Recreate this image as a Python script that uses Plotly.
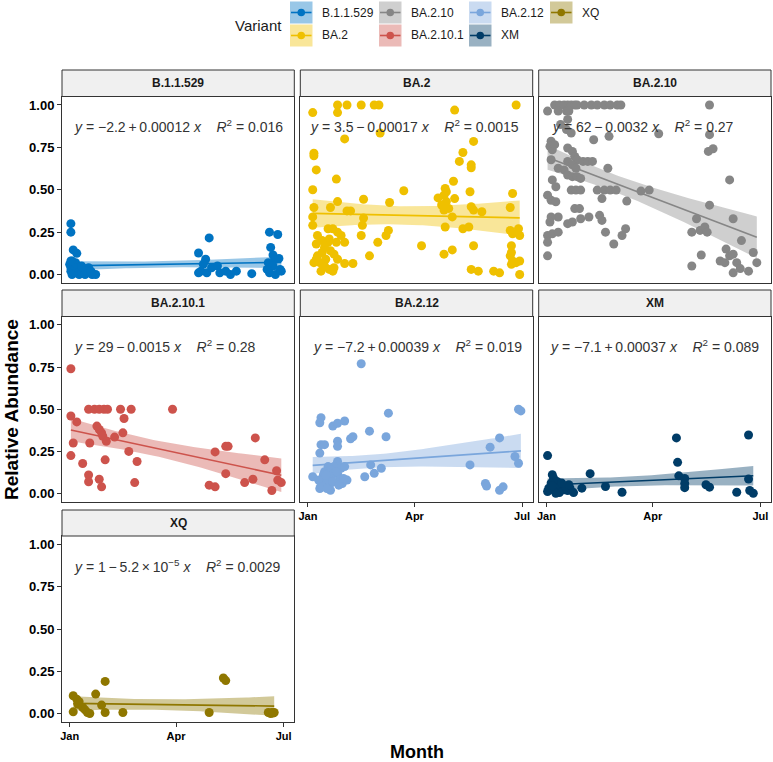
import numpy as np
import plotly.graph_objects as go

# ---------------- data (day = days since 2022-01-01, abundance = relative abundance) -------------
VARIANTS = ["B.1.1.529", "BA.2", "BA.2.10", "BA.2.10.1", "BA.2.12", "XM", "XQ"]
COLORS = ["#0073C2", "#EFC000", "#868686", "#CD534C", "#7AA6DC", "#003C67", "#8F7700"]

B11529_DAY = [1, 1, 3, 6, 0, 1, 1, 2, 2, 3, 4, 4, 5, 6, 7, 8, 9, 10, 11, 12, 13, 14, 15, 16, 17, 19, 22,
              1, 10, 14, 18,
              109, 118, 115, 111, 113, 116, 120, 125, 127, 132, 136, 141, 154, 109,
              169, 176, 170, 172, 174, 177, 168, 172, 178, 169, 174, 179, 167]
B11529_ABUND = [0.30, 0.25, 0.145, 0.125, 0.06, 0.04, 0.02, 0.08, 0.0, 0.05, 0.03, 0.01, 0.07, 0.02, 0.04,
                0.0, 0.03, 0.01, 0.04, 0.02, 0.0, 0.03, 0.01, 0.04, 0.02, 0.0, 0.0,
                0.08, 0.05, 0.02, 0.02,
                0.127, 0.216, 0.09, 0.02, 0.06, 0.01, 0.04, 0.05, 0.01, 0.02, 0.0, 0.02, 0.005, 0.01,
                0.25, 0.236, 0.16, 0.115, 0.09, 0.095, 0.07, 0.05, 0.03, 0.01, 0.0, 0.02, 0.03]

BA2_DAY = [25, 33, 45, 56, 60, 176, 25, 4, 124, 61, 31, 140, 131, 128, 138, 138, 5, 5, 7, 24, 4, 81, 123,
           116, 117, 115, 110, 117, 113, 115, 119, 137, 124, 47, 69, 25, 19, 5, 33, 36, 138, 140, 147,
           171, 173, 122, 4, 4, 47, 46, 116, 136, 131, 171, 178, 179, 173, 68, 66, 45, 59, 96, 140,
           172, 172, 171, 173, 179, 172, 176, 115, 122, 52, 31, 38, 157, 162, 138, 144, 179,
           8, 17, 21, 25, 28, 31, 17, 14, 12, 19, 22, 7, 10, 14, 11, 18, 22, 15, 25, 7, 18, 8, 5, 21,
           12, 24]
BA2_ABUND = [1.0, 1.0, 1.0, 1.0, 1.0, 1.0, 0.955, 0.955, 0.97, 0.835, 0.80, 0.785, 0.72, 0.667, 0.647,
             0.63, 0.716, 0.70, 0.617, 0.563, 0.50, 0.494, 0.55,
             0.508, 0.488, 0.468, 0.452, 0.43, 0.41, 0.38, 0.39, 0.488, 0.448, 0.444, 0.425, 0.43,
             0.395, 0.395, 0.375, 0.375, 0.40, 0.38, 0.37,
             0.395, 0.478, 0.34, 0.34, 0.29, 0.333, 0.29, 0.28, 0.28, 0.27, 0.26, 0.27, 0.23, 0.24,
             0.26, 0.23, 0.23, 0.19, 0.17, 0.17,
             0.17, 0.13, 0.11, 0.08, 0.08, 0.06, 0.07, 0.12, 0.145, 0.11, 0.065, 0.065, 0.02, 0.01,
             0.03, 0.02, 0.0,
             0.23, 0.27, 0.27, 0.25, 0.23, 0.19, 0.19, 0.16, 0.13, 0.14, 0.12, 0.09, 0.07, 0.05, 0.02,
             0.03, 0.04, 0.09, 0.09, 0.18, 0.21, 0.11, 0.07, 0.02, 0.20, 0.19]

BA210_DAY = [7, 11, 15, 18, 21, 24, 26, 32, 38, 43, 49, 54, 60, 63, 138,
             1, 10, 17, 19, 18, 12, 17, 21, 40, 53, 95, 138, 4, 3, 5, 7, 137, 141,
             18, 22, 24, 26, 31, 35, 39, 18, 22, 25, 15, 4, 10, 52, 5, 8, 18, 22, 26, 29, 155,
             1, 4, 8, 21, 25, 29, 43, 49, 54, 59, 80, 87, 47, 68, 24, 28, 10, 4, 3,
             18, 22, 29, 36, 45, 47, 67, 64, 57, 50, 1, 5, 10, 1, 1,
             138, 127, 158, 123, 130, 134, 136, 165, 152, 155, 158, 147, 151, 161, 123, 131,
             158, 164, 171, 175, 178]
BA210_ABUND = [1.0, 1.0, 1.0, 1.0, 1.0, 1.0, 1.0, 1.0, 1.0, 1.0, 1.0, 1.0, 1.0, 1.0, 1.0,
               0.964, 0.964, 0.964, 0.964, 0.915, 0.885, 0.855, 0.835, 0.795, 0.815, 0.83, 0.825,
               0.786, 0.756, 0.736, 0.766, 0.726, 0.742,
               0.746, 0.726, 0.696, 0.677, 0.667, 0.667, 0.667, 0.667, 0.647, 0.627, 0.617, 0.677,
               0.627, 0.627, 0.558, 0.518, 0.587, 0.577, 0.577, 0.567, 0.558,
               0.468, 0.438, 0.429, 0.498, 0.498, 0.498, 0.498, 0.498, 0.498, 0.498, 0.492, 0.498,
               0.448, 0.433, 0.389, 0.389, 0.339, 0.339, 0.31,
               0.30, 0.31, 0.329, 0.339, 0.349, 0.319, 0.27, 0.23, 0.18, 0.25, 0.23, 0.24, 0.25,
               0.19, 0.11,
               0.409, 0.329, 0.329, 0.25, 0.26, 0.28, 0.25, 0.20, 0.15, 0.11, 0.12, 0.08, 0.07, 0.07,
               0.05, 0.115, 0.01, 0.035, 0.02, 0.13, 0.07]

BA2101_DAY = [1, 1, 6, 3, 1, 11, 16, 16, 17, 16, 21, 25, 29, 32, 23, 25, 27, 28, 31, 25, 27, 30, 38,
              43, 52, 46, 45, 50, 57, 55, 87, 118, 123, 123, 132, 132, 134, 148, 155, 157, 165, 171,
              175, 176, 179]
BA2101_ABUND = [0.74, 0.46, 0.425, 0.30, 0.225, 0.178, 0.11, 0.07, 0.30, 0.50, 0.50, 0.50, 0.50, 0.50,
                0.40, 0.38, 0.36, 0.34, 0.31, 0.085, 0.04, 0.20, 0.335, 0.50, 0.50, 0.445, 0.36, 0.25,
                0.19, 0.065, 0.50, 0.05, 0.04, 0.247, 0.118, 0.28, 0.28, 0.065, 0.085, 0.33, 0.20,
                0.018, 0.135, 0.08, 0.065]

BA212_DAY = [45, 11, 10, 21, 25, 31, 68, 52, 36, 38, 66, 11, 14, 10, 25, 25, 25, 22, 17, 14, 19, 28,
             31, 4, 14, 17, 12, 19, 10, 19, 15, 29, 33, 25, 48, 53, 56, 62, 137, 150, 151, 154, 162,
             162, 165, 178, 180, 175, 178,
             13, 16, 20, 23, 27, 11, 18, 9, 12, 15, 21, 24, 26, 30, 16]
BA212_ABUND = [0.77, 0.45, 0.42, 0.40, 0.417, 0.43, 0.477, 0.37, 0.325, 0.337, 0.337, 0.29, 0.29, 0.24,
               0.31, 0.28, 0.19, 0.16, 0.16, 0.13, 0.14, 0.15, 0.16, 0.10, 0.09, 0.08, 0.06, 0.06,
               0.03, 0.02, 0.04, 0.06, 0.08, 0.12, 0.10, 0.17, 0.12, 0.15, 0.17, 0.06, 0.045, 0.275,
               0.33, 0.02, 0.04, 0.50, 0.49, 0.22, 0.18,
               0.11, 0.07, 0.10, 0.13, 0.09, 0.05, 0.12, 0.08, 0.04, 0.11, 0.07, 0.13, 0.05, 0.09, 0.03]

XM_DAY = [1, 110, 171, 111, 37, 112, 117, 117, 117, 171, 50, 64, 135, 138, 161, 172, 175, 30,
          5, 6, 4, 9, 2, 6, 12, 15, 11, 18, 20, 23, 8, 1, 16, 19, 5, 13]
XM_ABUND = [0.225, 0.33, 0.347, 0.185, 0.118, 0.105, 0.09, 0.06, 0.035, 0.086, 0.042, 0.008, 0.052,
            0.038, 0.008, 0.018, 0.002, 0.032,
            0.112, 0.092, 0.062, 0.072, 0.032, 0.022, 0.042, 0.022, 0.006, 0.018, 0.032, 0.006,
            0.002, 0.012, 0.042, 0.052, 0.046, 0.062]

XQ_DAY = [3, 6, 8, 7, 3, 11, 13, 15, 17, 22, 27, 30, 30, 45, 118, 130, 132, 168, 171, 173, 170, 172]
XQ_ABUND = [0.105, 0.085, 0.07, 0.055, 0.01, 0.036, 0.022, 0.006, 0.0, 0.115, 0.05, 0.19, 0.006,
            0.006, 0.006, 0.21, 0.195, 0.006, 0.006, 0.006, 0.0, 0.003]

DAYS = [B11529_DAY, BA2_DAY, BA210_DAY, BA2101_DAY, BA212_DAY, XM_DAY, XQ_DAY]
ABUNDS = [B11529_ABUND, BA2_ABUND, BA210_ABUND, BA2101_ABUND, BA212_ABUND, XM_ABUND, XQ_ABUND]

EQ_LEFT = ["<i>y</i> = −2.2\u2009+\u20090.00012 <i>x</i>",
           "<i>y</i> = 3.5\u2009−\u20090.00017 <i>x</i>",
           "<i>y</i> = 62\u2009−\u20090.0032 <i>x</i>",
           "<i>y</i> = 29\u2009−\u20090.0015 <i>x</i>",
           "<i>y</i> = −7.2\u2009+\u20090.00039 <i>x</i>",
           "<i>y</i> = −7.1\u2009+\u20090.00037 <i>x</i>",
           "<i>y</i> = 1\u2009−\u20095.2\u2009×\u200910<sup>−5</sup> <i>x</i>"]
EQ_R2 = ["0.016", "0.0015", "0.27", "0.28", "0.019", "0.089", "0.0029"]

Y_TICKS = [0, 0.25, 0.5, 0.75, 1.0]
X_TICKS = ["2022-01-01", "2022-04-01", "2022-07-01"]
X_TICK_LABELS = ["Jan", "Apr", "Jul"]

# ---------------- layout geometry (pixels) ----------------
W, H = 773, 762
ML, MR, MT, MB = 62, 2, 70, 40
PW, PH = W - ML - MR, H - MT - MB
FONT = "Liberation Sans, Arial, sans-serif"


def fx(px):
    return (px - ML) / PW


def fy(py):
    return 1 - (py - MT) / PH


COL_X = [(62, 294.3), (300.3, 532.7), (538.7, 771)]
ROW_STRIP = [(70, 96.5), (290, 316.5), (510, 536)]
ROW_PLOT = [(96.5, 283), (316.5, 502), (536, 722)]
PANEL_POS = [(0, 0), (1, 0), (2, 0), (0, 1), (1, 1), (2, 1), (0, 2)]
SHOW_Y = [True, False, False, True, False, False, True]
SHOW_X = [False, False, False, False, True, True, True]
EQ_X = [0.043, 0.033, 0.049, 0.043, 0.045, 0.041, 0.042]

BASE = np.datetime64("2022-01-01T00:00")


def to_dates(days):
    d = np.asarray(days, float)
    return list(np.datetime_as_string(BASE + np.round(d * 1440).astype("timedelta64[m]"), unit="m"))


def rgba(hexc, a):
    h = hexc.lstrip("#")
    return "rgba(%d,%d,%d,%.2f)" % (int(h[0:2], 16), int(h[2:4], 16), int(h[4:6], 16), a)


def fit_band(days, vals, npts=80):
    x = np.asarray(days, float)
    y = np.asarray(vals, float)
    n = len(x)
    xm = x.mean()
    sxx = ((x - xm) ** 2).sum()
    b = ((x - xm) * (y - y.mean())).sum() / sxx
    a = y.mean() - b * xm
    s = np.sqrt(((y - a - b * x) ** 2).sum() / (n - 2))
    df = n - 2
    z = 1.959964
    t = z + (z ** 3 + z) / (4 * df) + (5 * z ** 5 + 16 * z ** 3 + 3 * z) / (96 * df ** 2)
    xs = np.linspace(x.min(), x.max(), npts)
    fit = a + b * xs
    se = s * np.sqrt(1 / n + (xs - xm) ** 2 / sxx)
    return xs, fit, fit - t * se, fit + t * se


fig = go.Figure()
shapes = []
annotations = []
layout_axes = {}

for i, (name, col) in enumerate(zip(VARIANTS, COLORS)):
    k = i + 1
    xa = "x" if k == 1 else "x%d" % k
    ya = "y" if k == 1 else "y%d" % k
    c, r = PANEL_POS[i]
    x0, x1 = COL_X[c]
    py0, py1 = ROW_PLOT[r]

    xs, fit, lo, hi = fit_band(DAYS[i], ABUNDS[i])
    xd = to_dates(xs)
    fig.add_trace(go.Scatter(x=xd + xd[::-1], y=list(hi) + list(lo[::-1]), fill="toself",
                             fillcolor=rgba(col, 0.4), line=dict(width=0), mode="lines",
                             hoverinfo="skip", showlegend=False, xaxis=xa, yaxis=ya))
    fig.add_trace(go.Scatter(x=xd, y=fit, mode="lines", line=dict(color=col, width=1.6),
                             showlegend=False, xaxis=xa, yaxis=ya, hoverinfo="skip"))
    fig.add_trace(go.Scatter(x=to_dates(DAYS[i]), y=ABUNDS[i], mode="markers",
                             marker=dict(color=col, size=9, line=dict(width=0)),
                             name=name, showlegend=False, xaxis=xa, yaxis=ya))

    axk = "" if k == 1 else str(k)
    layout_axes["xaxis" + axk] = dict(
        domain=[fx(x0), fx(x1)], anchor=ya, type="date",
        range=["2021-12-25 12:00", "2022-07-10"],
        tickvals=X_TICKS, ticktext=X_TICK_LABELS, showticklabels=SHOW_X[i],
        ticks="outside" if SHOW_X[i] else "", ticklen=4, tickcolor="#333333",
        tickfont=dict(family=FONT, size=11, color="black", weight="bold"),
        showgrid=False, zeroline=False, showline=True, mirror=True,
        linecolor="#333333", linewidth=1)
    layout_axes["yaxis" + axk] = dict(
        domain=[fy(py1), fy(py0)], anchor=xa, range=[-0.05, 1.05],
        tickvals=Y_TICKS, tickformat=".2f", showticklabels=SHOW_Y[i],
        ticks="outside" if SHOW_Y[i] else "", ticklen=4, tickcolor="#333333",
        tickfont=dict(family=FONT, size=13, color="black", weight="bold"),
        showgrid=False, zeroline=False, showline=True, mirror=True,
        linecolor="#333333", linewidth=1)

    # strip
    sy0, sy1 = ROW_STRIP[r]
    shapes.append(dict(type="rect", xref="paper", yref="paper", x0=fx(x0), x1=fx(x1),
                       y0=fy(sy1), y1=fy(sy0), fillcolor="#F0F0F0",
                       line=dict(color="#333333", width=1), layer="above"))
    annotations.append(dict(xref="paper", yref="paper", x=fx((x0 + x1) / 2), y=fy((sy0 + sy1) / 2),
                            text="<b>%s</b>" % name, showarrow=False, xanchor="center",
                            yanchor="middle", font=dict(family=FONT, size=12, color="#1a1a1a")))
    # equation
    annotations.append(dict(xref=xa + " domain", yref=ya, x=EQ_X[i], y=0.875,
                            text=EQ_LEFT[i] + "\u00a0\u00a0\u00a0\u00a0<i>R</i><sup>2</sup> = " + EQ_R2[i],
                            showarrow=False, xanchor="left", yanchor="middle",
                            font=dict(family=FONT, size=14, color="#333333")))

# ---------------- legend (drawn as keys) ----------------
KEY_X = [290, 379, 469, 550]
KEY_ROWS = [(1.5, 23.5), (24.5, 46.5)]
KEY_W = 22.5
for i, (name, col) in enumerate(zip(VARIANTS, COLORS)):
    cc, rr = i // 2, i % 2
    kx0 = KEY_X[cc]
    kx1 = kx0 + KEY_W
    ky0, ky1 = KEY_ROWS[rr]
    kyc = (ky0 + ky1) / 2
    kxc = (kx0 + kx1) / 2
    shapes.append(dict(type="rect", xref="paper", yref="paper", x0=fx(kx0), x1=fx(kx1),
                       y0=fy(ky1), y1=fy(ky0), fillcolor=rgba(col, 0.4), line=dict(width=0)))
    shapes.append(dict(type="line", xref="paper", yref="paper", x0=fx(kx0 + 1), x1=fx(kx1 - 1),
                       y0=fy(kyc), y1=fy(kyc), line=dict(color=col, width=1.6)))
    rad = 3.8
    shapes.append(dict(type="circle", xref="paper", yref="paper", x0=fx(kxc - rad), x1=fx(kxc + rad),
                       y0=fy(kyc + rad), y1=fy(kyc - rad), fillcolor=col, line=dict(width=0)))
    annotations.append(dict(xref="paper", yref="paper", x=fx(kx1 + 7.5), y=fy(kyc), text=name,
                            showarrow=False, xanchor="left", yanchor="middle",
                            font=dict(family=FONT, size=12, color="#1a1a1a")))

annotations.append(dict(xref="paper", yref="paper", x=fx(233), y=fy(25), text="Variant",
                        showarrow=False, xanchor="left", yanchor="middle",
                        font=dict(family=FONT, size=15, color="#1a1a1a")))

# axis titles
annotations.append(dict(xref="paper", yref="paper", x=fx(416.5), y=fy(752), text="<b>Month</b>",
                        showarrow=False, xanchor="center", yanchor="middle",
                        font=dict(family=FONT, size=18, color="black")))
annotations.append(dict(xref="paper", yref="paper", x=fx(11), y=fy(410),
                        text="<b>Relative Abundance</b>", textangle=-90,
                        showarrow=False, xanchor="center", yanchor="middle",
                        font=dict(family=FONT, size=19, color="black")))

fig.update_layout(width=W, height=H, margin=dict(l=ML, r=MR, t=MT, b=MB),
                  paper_bgcolor="white", plot_bgcolor="white", showlegend=False,
                  shapes=shapes, annotations=annotations, **layout_axes)

fig.write_html("out.html", config={"displayModeBar": False},
               post_script="document.body.style.margin='0';document.body.style.overflow='hidden';")
